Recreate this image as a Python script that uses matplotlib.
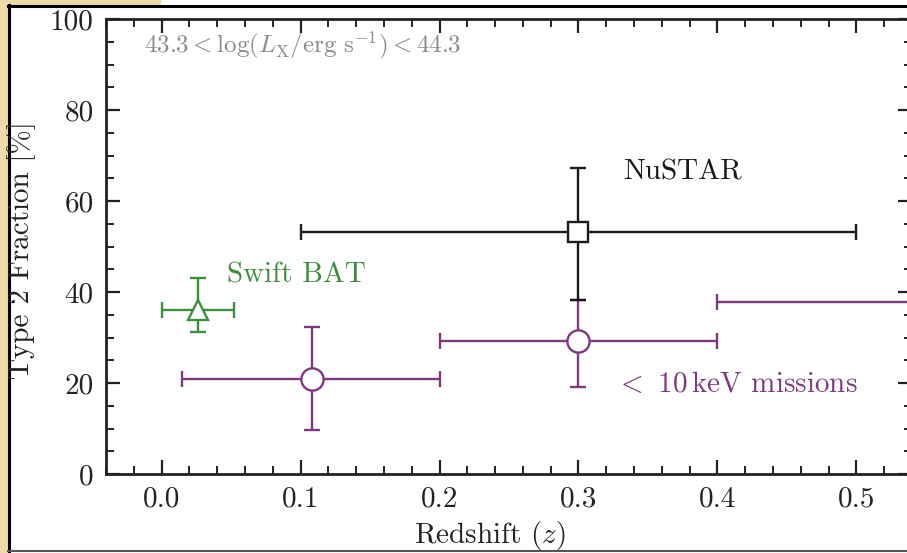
import numpy as np
import matplotlib
matplotlib.use("Agg")
import matplotlib.pyplot as plt
from matplotlib.lines import Line2D
from matplotlib.patches import Rectangle
from matplotlib.ticker import MultipleLocator

plt.rcParams["font.family"] = "serif"
plt.rcParams["font.serif"] = ["cmr10"]
plt.rcParams["mathtext.fontset"] = "cm"
plt.rcParams["axes.unicode_minus"] = False
plt.rcParams["axes.formatter.use_mathtext"] = True

# ---------------------------------------------------------------------------
# Data: type 2 fraction [%] against redshift
# ---------------------------------------------------------------------------
# Swift BAT
bat_z = [0.026]
bat_zlo = [0.026]
bat_zhi = [0.026]
bat_f = [36.0]
bat_flo = [4.8]
bat_fhi = [7.1]

# NuSTAR
nu_z = [0.30]
nu_zlo = [0.20]
nu_zhi = [0.20]
nu_f = [53.2]
nu_flo = [15.0]
nu_fhi = [14.1]

# < 10 keV missions
soft_z = [0.108, 0.30, 0.60]
soft_zlo = [0.093, 0.10, 0.20]
soft_zhi = [0.092, 0.10, 0.20]
soft_f = [20.9, 29.2, 37.8]
soft_flo = [11.2, 10.1, 9.0]
soft_fhi = [11.4, 9.0, 9.0]

green = "#3d8f3d"
purple = "#7d3a7d"
black = "#1a1a1a"
ink = "#222222"

W, H = 907, 553
fig = plt.figure(figsize=(W / 100, H / 100), dpi=100)

# frame around the panel
fig.patches.append(Rectangle((0, 0), 7 / W, 1, transform=fig.transFigure,
                             color="#eedba7", zorder=0))
fig.patches.append(Rectangle((0, 1 - 5 / H), 160 / W, 5 / H, transform=fig.transFigure,
                             color="#eedba7", zorder=0))
fig.lines.append(Line2D([8.5 / W, 8.5 / W], [0, 1 - 5 / H], transform=fig.transFigure,
                        color="black", lw=2.2))
fig.lines.append(Line2D([8 / W, 1], [1 - 6 / H, 1 - 6 / H], transform=fig.transFigure,
                        color="black", lw=2.2))
fig.lines.append(Line2D([8 / W, 1], [2 / H, 2 / H], transform=fig.transFigure,
                        color="#555555", lw=1.5))

x0, x1 = 106, 912
y0, y1 = 474, 19
ax = fig.add_axes([x0 / W, 1 - y0 / H, (x1 - x0) / W, (y0 - y1) / H])
ax.patch.set_alpha(0)

ekw = dict(capsize=5.5, elinewidth=1.7, capthick=1.7, markeredgewidth=1.7,
           markerfacecolor="white", linestyle="none")

ax.errorbar(soft_z, soft_f, xerr=[soft_zlo, soft_zhi], yerr=[soft_flo, soft_fhi],
            marker="o", markersize=16, color=purple, ecolor=purple,
            markeredgecolor=purple, zorder=3, **ekw)
ax.errorbar(nu_z, nu_f, xerr=[nu_zlo, nu_zhi], yerr=[nu_flo, nu_fhi],
            marker="s", markersize=15, color=black, ecolor=black,
            markeredgecolor=black, zorder=4, **ekw)
ax.errorbar(bat_z, bat_f, xerr=[bat_zlo, bat_zhi], yerr=[bat_flo, bat_fhi],
            marker="^", markersize=15, color=green, ecolor=green,
            markeredgecolor=green, zorder=3, **ekw)

fs = 21
ax.text(-0.013, 94.3, r"$43.3 < \log(L_{\rm X}/{\rm erg\ s^{-1}}) < 44.3$",
        color="#8a8a8a", fontsize=18, ha="left", va="center")
ax.text(0.332, 66.4, "NuSTAR", color=black, fontsize=fs, ha="left", va="center")
ax.text(0.047, 43.7, "Swift BAT", color=green, fontsize=fs, ha="left", va="center")
ax.text(0.326, 19.6, r"$<$ 10$\,$keV missions", color=purple, fontsize=fs,
        ha="left", va="center")

ax.set_xlim(-0.04, 0.54)
ax.set_ylim(0, 100)
ax.xaxis.set_major_locator(MultipleLocator(0.1))
ax.xaxis.set_minor_locator(MultipleLocator(0.02))
ax.yaxis.set_major_locator(MultipleLocator(20))
ax.yaxis.set_minor_locator(MultipleLocator(5))
ax.xaxis.set_major_formatter(plt.FuncFormatter(lambda v, p: f"{v:.1f}"))
ax.yaxis.set_major_formatter(plt.FuncFormatter(lambda v, p: f"{v:.0f}"))

ax.tick_params(which="both", direction="in", top=True, right=True,
               labelsize=fs, colors=ink)
ax.tick_params(which="major", length=10, width=1.6, pad=9)
ax.tick_params(which="minor", length=6, width=1.4)
for s in ax.spines.values():
    s.set_linewidth(2.0)
    s.set_color(ink)

# axis titles placed in figure pixels
fig.text(490 / W, 1 - 535 / H, r"Redshift ($z$)", fontsize=fs, color=ink,
         ha="center", va="center")
fig.text(22 / W, 1 - 250 / H, r"Type 2 Fraction [%]", fontsize=fs, color=ink,
         ha="center", va="center", rotation=90)

fig.savefig("out.png", dpi=100, facecolor="white")
